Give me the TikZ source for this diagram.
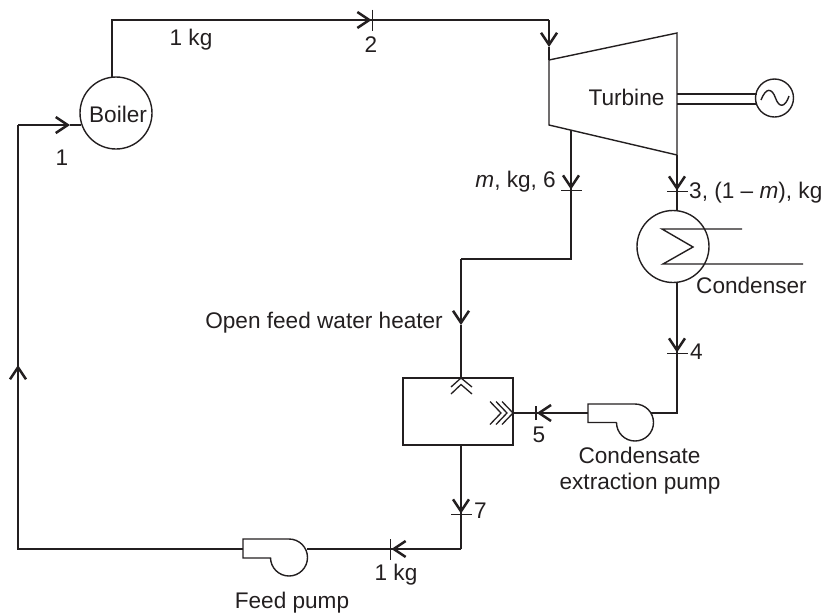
\documentclass[tikz,border=0pt]{standalone}
\usepackage{fontspec}
\setmainfont{Liberation Sans}
\usetikzlibrary{positioning,calc,arrows.meta}
\definecolor{ink}{RGB}{35,31,32}
\tikzset{vessel/.style={draw,circle,line width=1.4pt,minimum size=72pt,inner sep=0pt}}
\tikzset{gene/.style={draw,circle,line width=1.4pt,minimum size=38pt,inner sep=0pt}}
\tikzset{lab/.style={font=\fontsize{22.6}{24}\selectfont,inner sep=0pt}}
\tikzset{pipe/.style={line width=1.4pt}}
\tikzset{flowtip/.style={pipe,-{Straight Barb[length=12pt,width=16pt,line width=2.5pt]}}}
\tikzset{flowtick/.style={pipe,-{Straight Barb[length=12pt,width=16pt,line width=2.5pt,sep=0pt]Bar[width=21pt,line width=1.4pt]}}}
\tikzset{flowstub/.style={pipe,-{Straight Barb[length=12pt,width=16pt,line width=2.5pt,sep=0pt]Bar[width=14pt,line width=1.8pt]}}}
\tikzset{chev/.style={line width=1.3pt}}
\begin{document}
\begin{tikzpicture}[x=1pt,y=-1pt,color=ink]
	\useasboundingbox (0,0) rectangle (825,614);
	% main items
	\node[vessel] (boiler) at (116,113) {};
	\node[vessel] (cond) at (673,246.5) {};
	\node[gene] (gen) at (774.5,98) {};
	\coordinate (tul) at (549,60);
	\coordinate (tur) at (677,33);
	\coordinate (tlr) at (677,155);
	\coordinate (tll) at (549,125);
	\draw[pipe] (tul) -- (tur) -- (tlr) -- (tll) -- cycle;
	\node[draw,line width=1.4pt,minimum width=110pt,minimum height=67pt,inner sep=0pt] (heater) at (458,411.5) {};

	% boiler to turbine
	\coordinate (b1) at (112,77.3);
	\coordinate (b2) at (112,20);
	\coordinate (p2) at (373,20);
	\coordinate (t1) at (549,20);
	\coordinate (t2) at (549,47);
	\draw[flowtick] (b1) -- (b2) -- (p2);
	\draw[pipe] (p2) -- (t1);
	\draw[flowtip] (t1) -- (t2);
	\draw[pipe] (t2) -- (tul);

	% generator shaft
	\coordinate (s1) at (677,94);
	\coordinate (s2) at (756.5,94);
	\coordinate (s3) at (677,104);
	\coordinate (s4) at (756.5,104);
	\draw[pipe] (s1) -- (s2);
	\draw[pipe] (s3) -- (s4);
	\draw[pipe] (761,100) .. controls (766,87) and (772,88) .. (775.5,98) .. controls (779,108) and (785,108) .. (789,96);

	% extraction line
	\coordinate (e1) at (571,130);
	\coordinate (p6) at (571,191);
	\coordinate (e2) at (571,259);
	\coordinate (e3) at (461,259);
	\coordinate (e4) at (461,325);
	\coordinate (e5) at (461,378);
	\draw[flowtick] (e1) -- (p6);
	\draw[pipe] (p6) -- (e2) -- (e3);
	\draw[flowtip] (e3) -- (e4);
	\draw[pipe] (e4) -- (e5);
	\draw[chev] (451,387) -- (461,378) -- (472,387);
	\draw[chev] (451,394) -- (461,384.5) -- (472,394);

	% turbine to condenser
	\coordinate (p3) at (677,192);
	\coordinate (c1) at (677,211);
	\coordinate (c2) at (677,282);
	\coordinate (p4) at (677,354);
	\coordinate (c3) at (677,413);
	\coordinate (c4) at (651,413);
	\draw[flowtick] (tlr) -- (p3);
	\draw[pipe] (p3) -- (c1);
	\draw[flowtick] (c2) -- (p4);
	\draw[pipe] (p4) -- (c3) -- (c4);
	\draw[pipe] (742,229) -- (662,229) -- (693,247) -- (663,264) -- (803,264);

	% condensate pump
	\draw[pipe] (616.5,422.5) -- (588,422.5) -- (588,404) -- (635,404) arc[start angle=-90,end angle=180,radius=18.5];
	\coordinate (c5) at (588,413);
	\coordinate (p5) at (535,413);
	\coordinate (h1) at (513,413);
	\draw[flowstub] (c5) -- (p5);
	\draw[pipe] (p5) -- (h1);
	\foreach \xx in {513,507,501}
		\draw[chev] (\xx-11,401.5) -- (\xx,413) -- (\xx-11,424.5);

	% feed water back to boiler
	\coordinate (h2) at (461,445);
	\coordinate (p7) at (461,515);
	\coordinate (f1) at (461,549);
	\coordinate (p8) at (390,549);
	\coordinate (f2) at (307,549);
	\coordinate (f3) at (243,549);
	\coordinate (f4) at (18,549);
	\coordinate (f5) at (18,365);
	\coordinate (f6) at (18,125);
	\coordinate (f7) at (70,125);
	\coordinate (b3) at (81,125);
	\draw[flowtick] (h2) -- (p7);
	\draw[pipe] (p7) -- (f1);
	\draw[flowtick] (f1) -- (p8);
	\draw[pipe] (p8) -- (f2);
	\draw[pipe] (270.5,558) -- (243,558) -- (243,539) -- (289,539) arc[start angle=-90,end angle=180,radius=18.5];
	\draw[pipe] (f3) -- (f4) -- (f5);
	\draw[flowtip] (f4) -- (f5);
	\draw[pipe] (f5) -- (f6);
	\draw[flowtip] (f6) -- (f7);
	\draw[pipe] (f7) -- (b3);

	% labels
	\node[lab,anchor=base] (lboiler) at (118,122.5) {Boiler};
	\node[lab,anchor=base] (lturb) at (626.5,105.5) {Turbine};
	\node[lab,anchor=base] (lkg) at (191,45) {1 kg};
	\node[lab,anchor=base] (l2) at (371,52) {2};
	\node[lab,anchor=base] (l1) at (62,165) {1};
	\node[lab,anchor=base east] (l6) at (556,187) {\textit{m}, kg, 6};
	\node[lab,anchor=base west] (l3) at (689,198.5) {3, (1 -- \textit{m}), kg};
	\node[lab,anchor=base west] (lcond) at (696,293) {Condenser};
	\node[lab,anchor=base west] (l4) at (690,359) {4};
	\node[lab,anchor=base east] (lheater) at (443,328) {Open feed water heater};
	\node[lab,anchor=base] (l5) at (539,442) {5};
	\node[lab,anchor=base] (lcep) at (639.5,463) {Condensate};
	\node[lab,anchor=base] (lcepb) at (640,489) {extraction pump};
	\node[lab,anchor=base west] (l7) at (474,518) {7};
	\node[lab,anchor=base] (lkgb) at (396,580) {1 kg};
	\node[lab,anchor=base] (lfeed) at (292,608) {Feed pump};
\end{tikzpicture}
\end{document}
